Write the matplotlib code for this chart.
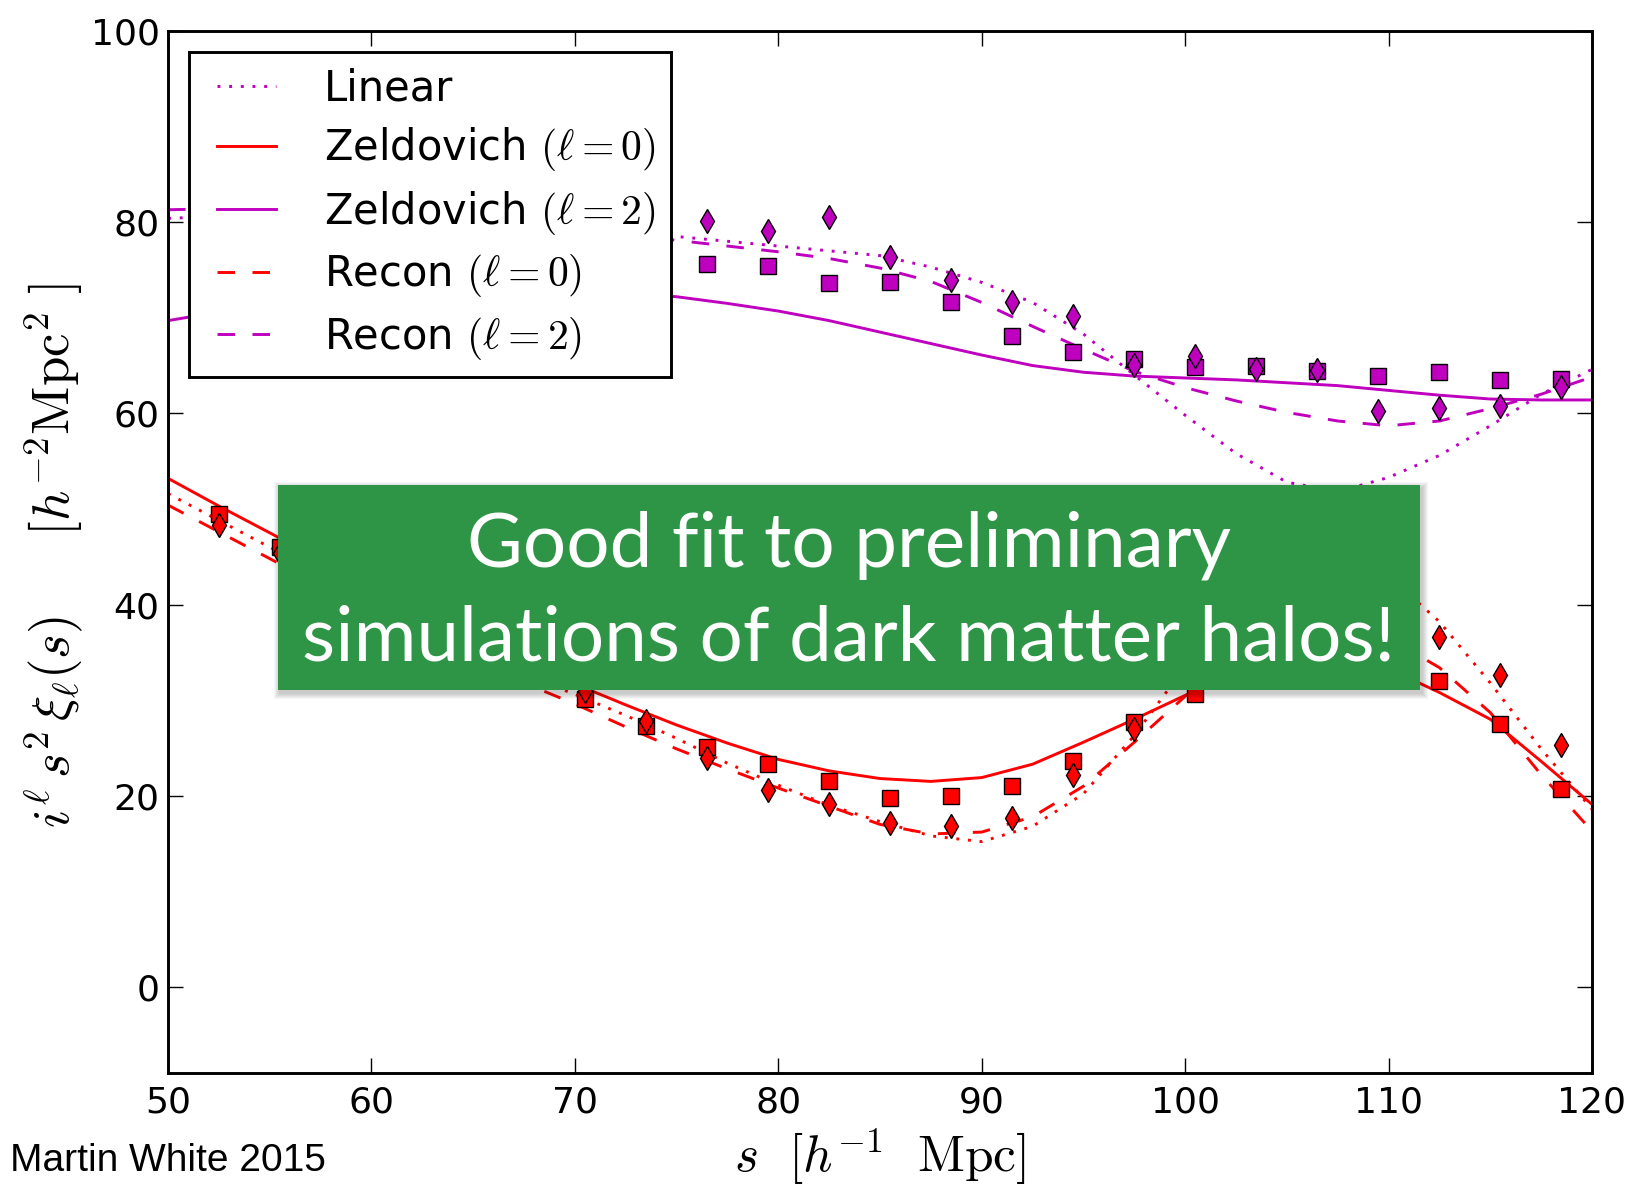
import numpy as np
import matplotlib
matplotlib.use("Agg")
import matplotlib.pyplot as plt
from matplotlib.patches import Rectangle
from matplotlib.lines import Line2D
from matplotlib.legend_handler import HandlerLine2D

plt.rcParams["mathtext.fontset"] = "cm"

# ------------------------------------------------------------
# data
# ------------------------------------------------------------
nan = np.nan

# measured points (squares / diamonds), s in h^-1 Mpc
s_pts = [52.5, 55.5, 58.5, 61.5, 64.5, 67.5, 70.5, 73.5, 76.5, 79.5, 82.5, 85.5,
         88.5, 91.5, 94.5, 97.5, 100.5, 103.5, 106.5, 109.5, 112.5, 115.5, 118.5]

red_sq = [49.5, 46.0, nan, nan, nan, nan, 30.1, 27.3, 25.1, 23.3, 21.5, 19.8,
          20.0, 21.0, 23.6, 27.7, 30.6, nan, nan, nan, 32.0, 27.5, 20.7]
red_dm = [48.3, 45.4, nan, nan, nan, nan, 31.0, 27.8, 24.0, 20.6, 19.1, 17.2,
          16.8, 17.7, 22.2, 27.0, nan, nan, nan, nan, 36.6, 32.6, 25.3]
mag_sq = [nan, nan, nan, nan, nan, nan, nan, nan, 75.6, 75.4, 73.6, 73.7,
          71.6, 68.1, 66.4, 65.7, 64.9, 65.0, 64.4, 63.9, 64.3, 63.5, 63.6]
mag_dm = [nan, nan, nan, nan, nan, nan, nan, nan, 80.1, 79.1, 80.5, 76.4,
          74.0, 71.6, 70.2, 65.1, 66.0, 64.6, 64.5, 60.2, 60.6, 60.8, 62.8]

# model curves
s_line = [50, 52.5, 55, 57.5, 60, 62.5, 65, 67.5, 70, 72.5, 75, 77.5, 80, 82.5,
          85, 87.5, 90, 92.5, 95, 97.5, 100, 102.5, 105, 107.5, 110, 112.5,
          115, 117.5, 120]

lin_l0 = [51.6, 48.8, 46.0, 43.2, 40.4, 37.7, 35.1, 32.7, 30.6, 28.4, 26.0, 23.4,
          21.1, 19.0, 17.3, 15.8, 15.2, 16.8, 20.2, 26.3, 33.5, 39.5, 43.0, 44.0,
          43.0, 38.2, 31.8, 24.9, 18.6]
lin_l2 = [80.4, 80.6, 80.6, 80.6, 80.5, 80.3, 80.1, 79.8, 79.4, 79.0, 78.5, 78.0,
          77.5, 77.0, 76.5, 75.3, 73.7, 71.6, 68.3, 64.0, 59.8, 55.8, 52.8, 51.8,
          53.3, 55.6, 58.7, 62.0, 64.6]
zel_l0 = [53.2, 50.3, 47.5, 44.7, 41.9, 39.2, 36.6, 34.0, 31.7, 29.5, 27.4, 25.5,
          23.8, 22.6, 21.8, 21.5, 21.9, 23.3, 25.6, 28.0, 30.5, 32.7, 34.1, 34.3,
          33.3, 30.8, 28.0, 23.6, 19.1]
zel_l2 = [69.7, 70.6, 71.3, 71.9, 72.4, 72.7, 72.9, 72.9, 72.8, 72.6, 72.2, 71.5,
          70.7, 69.7, 68.5, 67.3, 66.1, 65.0, 64.3, 63.9, 63.7, 63.5, 63.2, 62.9,
          62.4, 61.9, 61.5, 61.4, 61.4]
rec_l0 = [50.4, 47.6, 44.8, 42.0, 39.2, 36.6, 34.2, 31.8, 29.6, 27.2, 24.9, 22.8,
          20.8, 18.9, 17.0, 16.0, 16.2, 17.8, 21.0, 25.6, 30.4, 34.5, 37.0, 37.5,
          36.5, 33.4, 28.7, 22.2, 16.3]
rec_l2 = [81.3, 81.4, 81.3, 81.1, 80.9, 80.6, 80.2, 79.8, 79.3, 78.7, 78.1, 77.5,
          76.9, 76.2, 75.2, 73.8, 71.6, 69.1, 66.7, 64.4, 62.7, 61.3, 60.1, 59.2,
          58.7, 59.2, 60.5, 62.0, 63.8]

# ------------------------------------------------------------
# plot
# ------------------------------------------------------------
LW = 2.1
DOT = (0, (1, 3))
DASH = (0, (6, 6))

fig = plt.figure(figsize=(16.35, 11.91), dpi=100)
ax = fig.add_axes([0.1028, 0.0991, 0.8709, 0.8749])

h_lin, = ax.plot(s_line, lin_l2, color="m", ls=DOT, lw=LW, label="Linear")
ax.plot(s_line, lin_l0, color="r", ls=DOT, lw=LW)
h_z0, = ax.plot(s_line, zel_l0, color="r", ls="-", lw=LW,
                label=r"Zeldovich $(\ell=0)$")
h_z2, = ax.plot(s_line, zel_l2, color="m", ls="-", lw=LW,
                label=r"Zeldovich $(\ell=2)$")
h_r0, = ax.plot(s_line, rec_l0, color="r", ls=DASH, lw=LW,
                label=r"Recon $(\ell=0)$")
h_r2, = ax.plot(s_line, rec_l2, color="m", ls=DASH, lw=LW,
                label=r"Recon $(\ell=2)$")

mk = dict(ls="none", ms=12, mec="k", mew=1.0, zorder=5)
ax.plot(s_pts, mag_sq, marker="s", mfc="m", **mk)
ax.plot(s_pts, red_sq, marker="s", mfc="r", **mk)
ax.plot(s_pts, mag_dm, marker="d", mfc="m", **mk)
ax.plot(s_pts, red_dm, marker="d", mfc="r", **mk)

ax.set_xlim(50, 120)
ax.set_ylim(-9, 100)
ax.set_xticks(np.arange(50, 121, 10))
ax.set_yticks(np.arange(0, 101, 20))
ax.tick_params(direction="in", length=11, width=1.0, top=True, right=True,
               labelsize=26)
ax.tick_params(axis="x", pad=9)
ax.tick_params(axis="y", pad=6)
for sp in ax.spines.values():
    sp.set_linewidth(2.1)

ax.set_xlabel(r"$s\ \ [h^{-1}\ \ {\rm Mpc}]$", fontsize=37, va="center")
ax.xaxis.set_label_coords(0.5, -0.0805)
ax.set_ylabel(r"$i^\ell\,s^2\,\xi_\ell(s)\quad\ \ [h^{-2}{\rm Mpc}^2\ ]$",
              fontsize=38, va="center", ha="center")
ax.yaxis.set_label_coords(-0.0805, 0.497)

leg = ax.legend(handles=[h_lin, h_z0, h_z2, h_r0, h_r2], loc="upper left",
                bbox_to_anchor=(0.0147, 0.9798), borderaxespad=0, fontsize=30,
                fancybox=False, framealpha=1, edgecolor="k",
                handlelength=1.7, handletextpad=1.15, labelspacing=0.37,
                borderpad=0.38,
                handler_map={Line2D: HandlerLine2D(xpad=0.28)})
leg.get_frame().set_linewidth(2.1)

# green call-out box with a soft shadow
bx, by, bw, bh = 278 / 1635, 1 - 690 / 1191, 1142 / 1635, 205 / 1191
px, py = 1 / 1635, 1 / 1191
for k in range(1, 7):
    fig.add_artist(Rectangle((bx - k * px + 2 * px, by - k * py - 3 * py),
                             bw + 2 * k * px, bh + 2 * k * py,
                             transform=fig.transFigure, fc="k", ec="none",
                             alpha=0.035, zorder=19))
fig.add_artist(Rectangle((bx, by), bw, bh, transform=fig.transFigure,
                         fc="#2f9546", ec="none", zorder=20))
fig.text(bx + bw / 2, 1 - 592 / 1191,
         "Good fit to preliminary\nsimulations of dark matter halos!",
         ha="center", va="center", color="white", fontsize=55,
         family="Lato", linespacing=1.45, zorder=21)

fig.text(10 / 1635, 1 - 1161 / 1191, "Martin White 2015", ha="left",
         va="center", fontsize=28, family="Liberation Sans")

fig.savefig("out.png", dpi=100)
